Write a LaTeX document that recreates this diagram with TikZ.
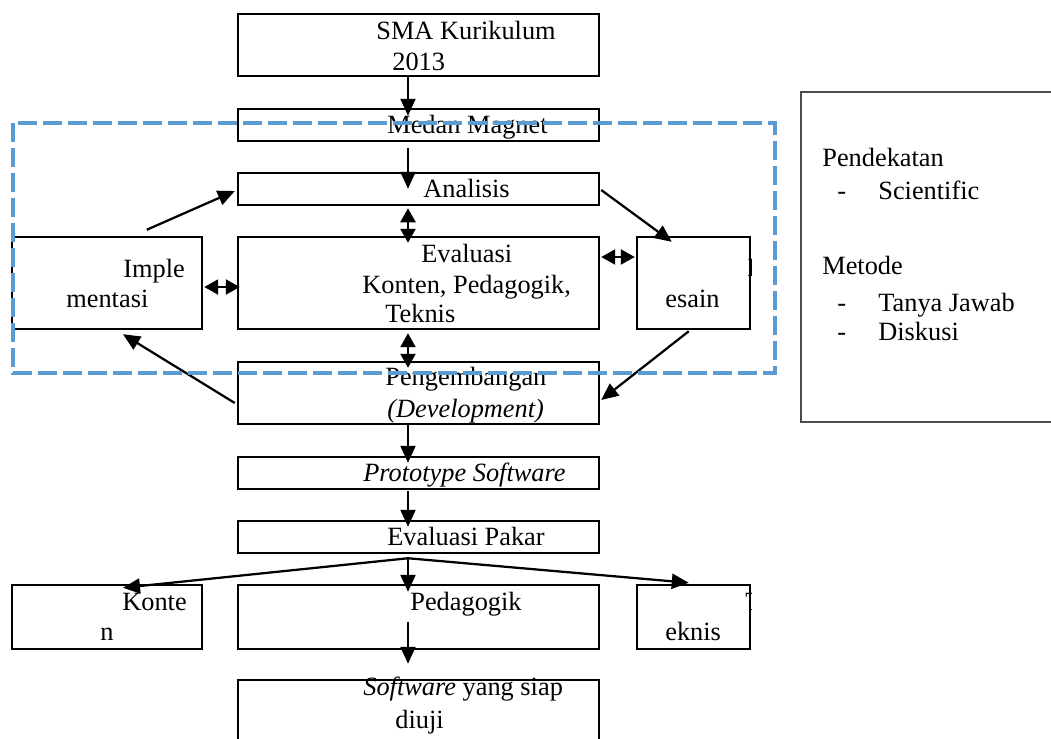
\documentclass[tikz,border=0pt]{standalone}
\usepackage{fontspec}
\setmainfont{Liberation Serif}
\usetikzlibrary{arrows.meta,calc}
\definecolor{dashblue}{RGB}{91,155,213}

\begin{document}
\begin{tikzpicture}[x=0.02cm, y=-0.02cm,
    font=\fontsize{15}{18}\selectfont,
    box/.style={draw, line width=0.05cm, inner sep=0pt},
    txt/.style={anchor=base west, inner sep=0pt},
    arr/.style={line width=0.045cm, -{Triangle[length=0.34cm, width=0.30cm]}},
    dbl/.style={line width=0.045cm, {Triangle[length=0.28cm, width=0.30cm]}-{Triangle[length=0.28cm, width=0.30cm]}}]
    \useasboundingbox (0,0) rectangle (1051,738);
    \node[box, minimum width=7.22cm, minimum height=1.24cm] (sma) at (418.5,45) {};
    \node[box, minimum width=7.22cm, minimum height=0.64cm] (medan) at (418.5,125) {};
    \node[box, minimum width=7.22cm, minimum height=0.64cm] (analisis) at (418.5,189) {};
    \node[box, minimum width=7.22cm, minimum height=1.84cm] (evaluasi) at (418.5,283) {};
    \node[box, minimum width=3.80cm, minimum height=1.84cm] (impl) at (107,283) {};
    \node[box, minimum width=2.26cm, minimum height=1.84cm] (desain) at (693.5,283) {};
    \node[box, minimum width=7.22cm, minimum height=1.24cm] (peng) at (418.5,393) {};
    \node[box, minimum width=7.22cm, minimum height=0.64cm] (proto) at (418.5,473) {};
    \node[box, minimum width=7.22cm, minimum height=0.64cm] (pakar) at (418.5,537) {};
    \node[box, minimum width=3.80cm, minimum height=1.28cm] (konten) at (107,617) {};
    \node[box, minimum width=7.22cm, minimum height=1.28cm] (pedagogik) at (418.5,617) {};
    \node[box, minimum width=2.26cm, minimum height=1.28cm] (teknis) at (693.5,617) {};
    \node[box, minimum width=7.22cm, minimum height=1.60cm] (software) at (418.5,720) {};
    \node[draw=black!70, line width=0.026cm, minimum width=5.38cm, minimum height=6.60cm] (info) at (935.5,257) {};

    \node[txt] (sma-a) at (376,39) {SMA Kurikulum};
    \node[txt] (sma-b) at (392,70) {2013};
    \node[txt] (medan-t) at (387,133) {Medan Magnet};
    \node[txt] (analisis-t) at (423,197) {Analisis};
    \node[txt] (evaluasi-a) at (421,262) {Evaluasi};
    \node[txt] (evaluasi-b) at (362,293) {Konten, Pedagogik,};
    \node[txt] (evaluasi-c) at (385,322) {Teknis};
    \node[txt] (impl-a) at (123,277) {Imple};
    \node[txt] (impl-b) at (66,307) {mentasi};
    \node[txt] (desain-t) at (665,307) {esain};
    \begin{scope}
      \clip (desain.south west) rectangle (desain.north east);
      \node[txt] (desain-d) at (747,276) {D};
    \end{scope}
    \node[txt] (peng-a) at (385,385) {Pengembangan};
    \node[txt] (peng-b) at (387,417) {\textit{(Development)}};
    \node[txt] (proto-t) at (363,481) {\textit{Prototype Software}};
    \node[txt] (pakar-t) at (387,545) {Evaluasi Pakar};
    \node[txt] (konten-a) at (122,610) {Konte};
    \node[txt] (konten-b) at (100,640) {n};
    \node[txt] (pedagogik-t) at (410,610) {Pedagogik};
    \node[txt] (teknis-t) at (665,640) {eknis};
    \begin{scope}
      \clip (teknis.south west) rectangle (teknis.north east);
      \node[txt] (teknis-d) at (745,610) {T};
    \end{scope}
    \node[txt] (software-a) at (363,695) {\textit{Software} yang siap};
    \node[txt] (software-b) at (395,728) {diuji};
    \node[txt] (info-a) at (822,166) {Pendekatan};
    \node[txt] (info-b) at (837,199) {-};
    \node[txt] (info-c) at (878,199) {Scientific};
    \node[txt] (info-d) at (822,274) {Metode};
    \node[txt] (info-e) at (837,311) {-};
    \node[txt] (info-f) at (878,311) {Tanya Jawab};
    \node[txt] (info-g) at (837,340) {-};
    \node[txt] (info-h) at (878,340) {Diskusi};

    \draw[arr] ($(sma.south)+(-10.5,0)$) -- ($(medan.north)+(-10.5,8)$);
    \draw[arr] ($(medan.south)+(-10.5,6)$) -- ($(analisis.north)+(-10.5,17)$);
    \draw[dbl] ($(analisis.south)+(-10.5,2)$) -- ($(evaluasi.north)+(-10.5,7)$);
    \draw[dbl] ($(evaluasi.south)+(-10.5,3)$) -- ($(peng.north)+(-10.5,7)$);
    \draw[dbl] ($(impl.east)+(1,4)$) -- ($(evaluasi.west)+(3,4)$);
    \draw[dbl] ($(evaluasi.east)+(1,-26)$) -- ($(desain.west)+(-1,-26)$);
    \draw[arr] ($(impl.north west)+(136,-6)$) -- ($(analisis.west)+(-2,2)$);
    \draw[arr] ($(analisis.east)+(1,1)$) -- ($(desain.north west)+(36,6)$);
    \draw[arr] ($(desain.south west)+(53,1)$) -- ($(peng.east)+(1,7)$);
    \draw[arr] ($(peng.west)+(-2,10)$) -- ($(impl.south)+(16,4)$);
    \draw[arr] ($(peng.south)+(-10.5,0)$) -- ($(proto.north)+(-10.5,7)$);
    \draw[arr] ($(proto.south)+(-10.5,1)$) -- ($(pakar.north)+(-10.5,7)$);
    \coordinate (fan) at ($(pakar.south)+(-10.5,4)$);
    \draw[arr] (fan) -- ($(konten.north)+(16,4)$);
    \draw[arr] (fan) -- ($(pedagogik.north)+(-10.5,8)$);
    \draw[arr] (fan) -- ($(teknis.north west)+(53,-1)$);
    \draw[arr] ($(pedagogik.north)+(-10.5,38)$) -- ($(software.north)+(-10.5,-15)$);

    \draw[dashblue, line width=0.08cm, dash pattern=on 0.38cm off 0.12cm] (13,123) rectangle (775,373);
\end{tikzpicture}
\end{document}
